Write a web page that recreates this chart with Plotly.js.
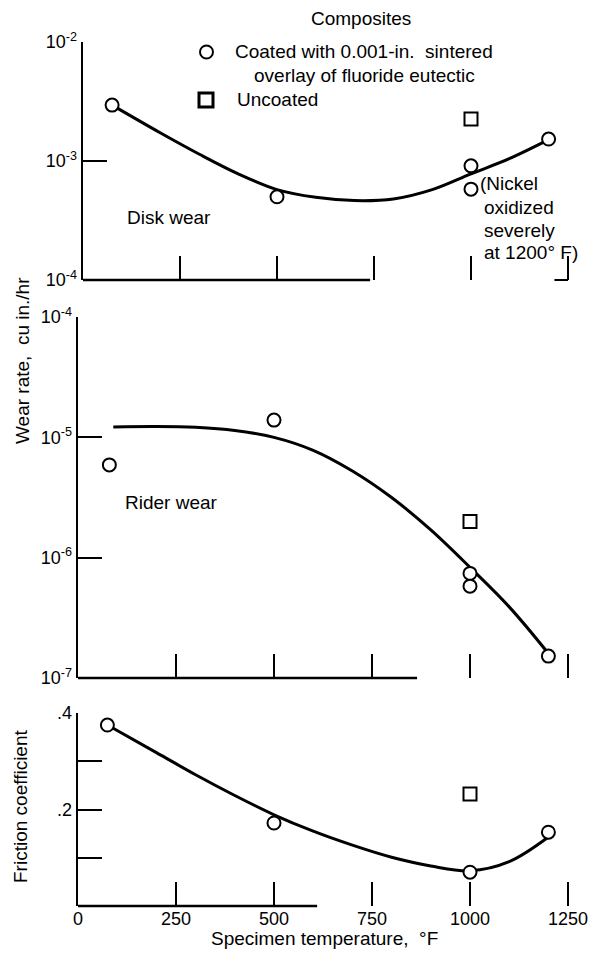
<!DOCTYPE html>
<html>
<head>
<meta charset="utf-8">
<script src="https://cdn.plot.ly/plotly-3.0.1.min.js"></script>
<style>html,body{margin:0;padding:0;background:#fff}</style>
</head>
<body>
<div id="chart" style="width:589px;height:955px"></div>
<script>
// ---------- data ----------
// Disk wear (cu in./hr)
const diskCoatedT = [75, 500, 1000, 1000, 1200];
const diskCoatedV = [2.95e-3, 5.0e-4, 9.1e-4, 5.8e-4, 1.53e-3];
const diskUncoatedT = [1000];
const diskUncoatedV = [2.25e-3];
const diskCurveT = [75, 200, 300, 400, 500, 600, 700, 800, 900, 1000, 1100, 1200];
const diskCurveV = [2.95e-3, 1.72e-3, 1.14e-3, 7.8e-4, 5.75e-4, 4.95e-4, 4.65e-4, 4.8e-4, 5.75e-4, 7.8e-4, 1.05e-3, 1.51e-3];
// Rider wear (cu in./hr)
const riderCoatedT = [80, 500, 1000, 1000, 1200];
const riderCoatedV = [5.9e-6, 1.39e-5, 7.4e-7, 5.8e-7, 1.52e-7];
const riderUncoatedT = [1000];
const riderUncoatedV = [2.0e-6];
const riderCurveT = [90, 200, 300, 400, 500, 600, 700, 800, 900, 1000, 1100, 1200];
const riderCurveV = [1.22e-5, 1.23e-5, 1.21e-5, 1.14e-5, 1.0e-5, 7.8e-6, 5.25e-6, 3.16e-6, 1.7e-6, 8.3e-7, 3.9e-7, 1.6e-7];
// Friction coefficient
const fricCoatedT = [75, 500, 1000, 1200];
const fricCoatedV = [0.375, 0.172, 0.070, 0.153];
const fricUncoatedT = [1000];
const fricUncoatedV = [0.232];
const fricCurveT = [75, 200, 300, 400, 500, 600, 700, 800, 900, 1000, 1100, 1200];
const fricCurveV = [0.375, 0.318, 0.272, 0.229, 0.189, 0.155, 0.126, 0.101, 0.083, 0.073, 0.092, 0.143];
// ticks
const xTicks = [0, 250, 500, 750, 1000, 1250];
const xTickText = ['0', '250', '500', '750', '1000', '1250'];
const diskTicks = [1e-4, 1e-3, 1e-2];
const diskTickText = ['10<sup>-4</sup>', '10<sup>-3</sup>', '10<sup>-2</sup>'];
const riderTicks = [1e-7, 1e-6, 1e-5, 1e-4];
const riderTickText = ['10<sup>-7</sup>', '10<sup>-6</sup>', '10<sup>-5</sup>', '10<sup>-4</sup>'];
const fricTicks = [0.1, 0.2, 0.3, 0.4];
const fricTickText = [' ', '.2', ' ', '.4'];

// ---------- layout helpers ----------
const W = 589, H = 955;
const px = x => x / W;
const py = y => 1 - y / H;
const FONT = 'Liberation Sans, Arial, sans-serif';
const XMAX = 1260;              // a little past 1250 so the last tick is kept
const xEnd = x0 => x0 + (568 - x0) * XMAX / 1250;

const lineStyle = {color: '#000', width: 3, shape: 'spline', smoothing: 1};
const circ = {symbol: 'circle', size: 13, color: '#fff', line: {color: '#000', width: 2}};
const sq = {symbol: 'square', size: 13, color: '#fff', line: {color: '#000', width: 2}};

function curve(x, y, xa, ya) {
  return {x, y, xaxis: xa, yaxis: ya, mode: 'lines', line: lineStyle, showlegend: false, hoverinfo: 'skip'};
}
function pts(x, y, xa, ya, m, name) {
  return {x, y, xaxis: xa, yaxis: ya, mode: 'markers', marker: m, name, showlegend: false};
}

const data = [
  curve(diskCurveT, diskCurveV, 'x', 'y'),
  pts(diskCoatedT, diskCoatedV, 'x', 'y', circ, 'Coated'),
  pts(diskUncoatedT, diskUncoatedV, 'x', 'y', sq, 'Uncoated'),
  curve(riderCurveT, riderCurveV, 'x2', 'y2'),
  pts(riderCoatedT, riderCoatedV, 'x2', 'y2', circ, 'Coated'),
  pts(riderUncoatedT, riderUncoatedV, 'x2', 'y2', sq, 'Uncoated'),
  curve(fricCurveT, fricCurveV, 'x3', 'y3'),
  pts(fricCoatedT, fricCoatedV, 'x3', 'y3', circ, 'Coated'),
  pts(fricUncoatedT, fricUncoatedV, 'x3', 'y3', sq, 'Uncoated')
];

const tickFont = {family: FONT, size: 18, color: '#000'};
function xax(x0, anchor, labels) {
  return {
    domain: [px(x0), px(xEnd(x0))], anchor, range: [0, XMAX], showline: false, showgrid: false, zeroline: false,
    ticks: 'inside', ticklen: 24, tickwidth: 2, tickcolor: '#000',
    tickvals: labels ? xTicks : xTicks.slice(1),
    ticktext: labels ? xTickText : xTickText.slice(1),
    showticklabels: !!labels, tickfont: tickFont
  };
}
function yax(domain, anchor, extra) {
  return Object.assign({
    domain, anchor, showline: true, linewidth: 2.5, linecolor: '#000', showgrid: false, zeroline: false,
    ticks: 'inside', ticklen: 24, tickwidth: 2, tickcolor: '#000', tickfont: tickFont
  }, extra);
}

const txt = (text, x, y, opts) => Object.assign({
  text, x: px(x), y: py(y), xref: 'paper', yref: 'paper', showarrow: false,
  xanchor: 'left', yanchor: 'middle', font: {family: FONT, size: 19, color: '#000'}
}, opts || {});

const layout = {
  width: W, height: H,
  margin: {l: 0, r: 0, t: 0, b: 0},
  paper_bgcolor: '#fff', plot_bgcolor: 'rgba(0,0,0,0)',
  showlegend: false,
  font: {family: FONT, size: 19, color: '#000'},
  xaxis: xax(83, 'y', false),
  yaxis: yax([py(280), py(42)], 'x', {type: 'log', range: [-4, -2], tickvals: diskTicks, ticktext: diskTickText}),
  xaxis2: xax(78, 'y2', false),
  yaxis2: yax([py(678), py(317)], 'x2', {type: 'log', range: [-7, -4], tickvals: riderTicks, ticktext: riderTickText}),
  xaxis3: xax(78, 'y3', true),
  yaxis3: yax([py(906), py(713)], 'x3', {range: [0, 0.4], tickvals: fricTicks, ticktext: fricTickText}),
  shapes: [
    // partial bottom axis lines (as in the original scan)
    {type: 'line', xref: 'x', yref: 'y domain', x0: 0, x1: 740, y0: 0, y1: 0, line: {color: '#000', width: 2.5}},
    {type: 'line', xref: 'x', yref: 'y domain', x0: 1215, x1: 1250, y0: 0, y1: 0, line: {color: '#000', width: 2}},
    {type: 'line', xref: 'x2', yref: 'y2 domain', x0: 0, x1: 865, y0: 0, y1: 0, line: {color: '#000', width: 2.5}},
    {type: 'line', xref: 'x3', yref: 'y3 domain', x0: 0, x1: 610, y0: 0, y1: 0, line: {color: '#000', width: 2.5}},
    // legend symbols
    {type: 'circle', xref: 'paper', yref: 'paper', x0: px(200), x1: px(213), y0: py(58.5), y1: py(45.5), line: {color: '#000', width: 2}, fillcolor: '#fff'},
    {type: 'rect', xref: 'paper', yref: 'paper', x0: px(199), x1: px(213), y0: py(107), y1: py(93), line: {color: '#000', width: 3}, fillcolor: '#fff'}
  ],
  annotations: [
    txt('Composites', 361, 19, {xanchor: 'center'}),
    txt('Coated with 0.001-in.  sintered', 233, 52),
    txt('overlay of fluoride eutectic', 252, 75),
    txt('Uncoated', 235, 99),
    txt('Disk wear', 125, 218),
    txt('Rider wear', 123, 502),
    txt('(Nickel', 478, 184),
    txt('oxidized', 482, 207),
    txt('severely', 482, 230),
    txt('at 1200° F)', 482, 253),
    txt('Wear rate,  cu in./hr', 22, 361, {xanchor: 'center', textangle: -90}),
    txt('Friction coefficient', 20, 807, {xanchor: 'center', textangle: -90}),
    txt('Specimen temperature,  °F', 324, 938, {xanchor: 'center'})
  ]
};

Plotly.newPlot('chart', data, layout, {staticPlot: true, displayModeBar: false});
</script>
</body>
</html>
